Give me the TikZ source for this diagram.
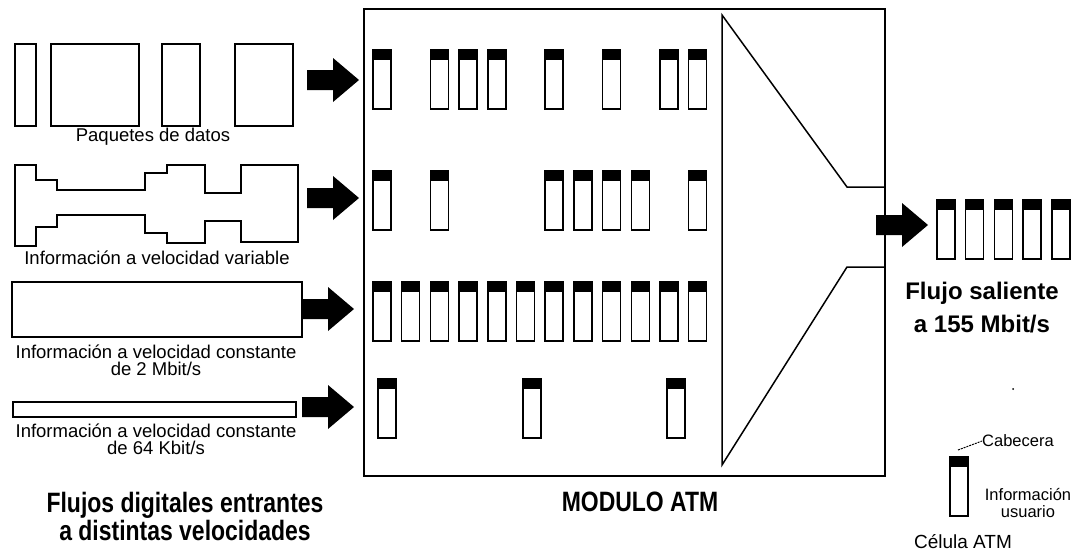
\documentclass[tikz,border=0pt]{standalone}
\usepackage{fontspec}
\setmainfont{Liberation Sans}
\newfontfamily\titlefont[FakeStretch=0.82]{Liberation Sans}
\usetikzlibrary{positioning}

\tikzset{
	linea/.style={line width=1.5pt},
	celda/.pic={
		\fill (0,0) rectangle (18,10);
		\draw[line width=1.5pt] (0,0) rectangle (18,59);
	},
	flecha/.pic={
		\fill (0,-10) -- (26,-10) -- (26,-22) -- (52,0) -- (26,22) -- (26,10) -- (0,10) -- cycle;
	},
	etiqueta/.style={font={\fontsize{18.5}{17}\selectfont}, align=center, inner sep=0pt},
	titulo/.style={font={\titlefont\bfseries\fontsize{28}{28}\selectfont}, align=center, inner sep=0pt},
	salida/.style={font={\bfseries\fontsize{24}{33}\selectfont}, align=center, inner sep=0pt}
}

\begin{document}
\begin{tikzpicture}[x=1pt,y=-1pt]
	\useasboundingbox (0,0) rectangle (1082,554);
	% flujos entrantes
	\foreach \a/\b in {15/36,51/139,162/200,235/293}
	\draw[linea] (\a,44) rectangle (\b,126);
	\node[etiqueta] (paquetes) at (153,137) {Paquetes de datos};
	\draw[linea] (15,165) -- (36,165) -- (36,180) -- (57,180) -- (57,190) -- (145,190) -- (145,173)
		-- (167,173) -- (167,165) -- (205,165) -- (205,193) -- (241,193) -- (241,165) -- (298,165)
		-- (298,242) -- (241,242) -- (241,221) -- (205,221) -- (205,243) -- (167,243) -- (167,233)
		-- (145,233) -- (145,215) -- (57,215) -- (57,227) -- (36,227) -- (36,246) -- (15,246) -- cycle;
	\node[etiqueta] (variable) at (157,258) {Información a velocidad variable};
	\draw[linea] (12,282) rectangle (302,337);
	\node[etiqueta] (dosmbit) at (156,360) {Información a velocidad constante\\de 2 Mbit/s};
	\draw[linea] (13,402) rectangle (296,417);
	\node[etiqueta] (kbit) at (156,439) {Información a velocidad constante\\de 64 Kbit/s};
	\foreach \x/\y in {307/80,307/198,302/309,302/407}
	\pic at (\x,\y) {flecha};
	\node[titulo] (entrantes) at (185,516) {Flujos digitales entrantes\\a distintas velocidades};
	% modulo ATM
	\draw[linea] (364,9) rectangle (885,476);
	\draw[linea] (885,187) -- (847,187) -- (722,15) -- (722,465) -- (847,267) -- (885,267);
	\foreach \k in {0,2,3,4,6,8,10,11}
	\pic at (373+28.7*\k,50) {celda};
	\foreach \k in {0,2,6,7,8,9,11}
	\pic at (373+28.7*\k,171) {celda};
	\foreach \k in {0,...,11}
	\pic at (373+28.7*\k,282) {celda};
	\foreach \x in {378,523,667}
	\pic at (\x,379) {celda};
	\node[titulo] (modulo) at (640,502) {MODULO ATM};
	% flujo saliente
	\pic at (876,225) {flecha};
	\foreach \k in {0,...,4}
	\pic at (937+28.7*\k,200) {celda};
	\node[salida] (saliente) at (982,308) {Flujo saliente\\a 155 Mbit/s};
	% leyenda
	\fill (1013,389) circle (1);
	\pic at (950,457) {celda};
	\node[font={\fontsize{16.5}{17}\selectfont}, inner sep=0pt, anchor=west] (cabecera) at (982,441) {Cabecera};
	\coordinate (cab) at (958,450);
	\draw[line width=1pt, dash pattern=on 2pt off 1pt] (cab) -- (cabecera.west);
	\node[font={\fontsize{16.5}{17}\selectfont}, align=center, inner sep=0pt] (usuario) at (1028,503) {Información\\usuario};
	\node[font={\fontsize{19}{19}\selectfont}, inner sep=0pt] (celula) at (963,542) {Célula ATM};
\end{tikzpicture}
\end{document}
